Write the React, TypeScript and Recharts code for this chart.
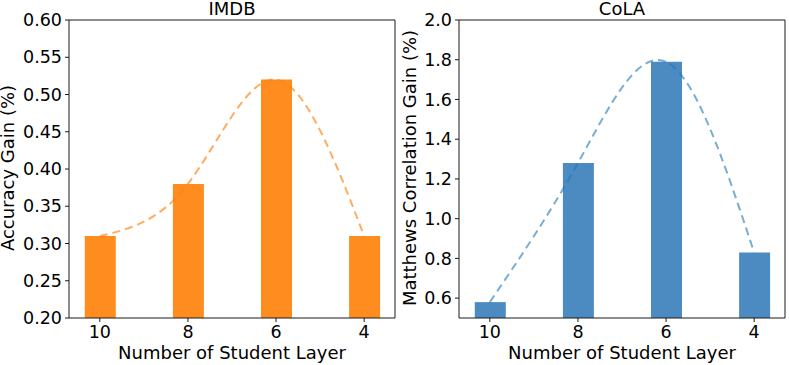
import { ComposedChart, Bar, Line, XAxis, YAxis, ReferenceLine } from 'recharts'

const layers = ['10', '8', '6', '4']
const imdbGain = [0.31, 0.38, 0.52, 0.31]
const colaGain = [0.58, 1.28, 1.79, 0.83]
const imdbTicks = [0.2, 0.25, 0.3, 0.35, 0.4, 0.45, 0.5, 0.55, 0.6]
const colaTicks = [0.6, 0.8, 1.0, 1.2, 1.4, 1.6, 1.8, 2.0]

const FONT = '"DejaVu Sans", sans-serif'
const AXIS = '#1a1a1a'
const ORANGE_BAR = '#ff8c1f'
const ORANGE_LINE = 'rgba(255,127,14,0.65)'
const BLUE_BAR = '#4b8bc2'
const BLUE_LINE = 'rgba(31,119,180,0.6)'

const X_DOMAIN: [number, number] = [-0.35, 3.35]

interface PanelProps {
  values: number[]
  yDomain: [number, number]
  yTicks: number[]
  digits: number
  barColor: string
  lineColor: string
  width: number
}

function Panel({ values, yDomain, yTicks, digits, barColor, lineColor, width }: PanelProps) {
  const data = values.map((v, i) => ({ pos: i, value: v }))
  const tick = { fontSize: 17.5, fill: '#000', fontFamily: FONT }
  return (
    <ComposedChart width={width} height={365} data={data} margin={{ top: 20, right: width - 395, bottom: 0, left: 9 }}>
      <XAxis
        dataKey="pos"
        type="number"
        domain={X_DOMAIN}
        allowDataOverflow
        ticks={[0, 1, 2, 3]}
        tickFormatter={(i: number) => layers[i]}
        height={47}
        tickSize={4}
        tickMargin={3.5}
        tick={tick}
        stroke={AXIS}
        tickLine={{ stroke: AXIS }}
      />
      <YAxis
        type="number"
        domain={yDomain}
        allowDataOverflow
        ticks={yTicks}
        tickFormatter={(v: number) => v.toFixed(digits)}
        width={60}
        tickSize={4}
        tickMargin={3}
        tick={tick}
        stroke={AXIS}
        tickLine={{ stroke: AXIS }}
      />
      <ReferenceLine y={yDomain[1]} stroke={AXIS} strokeWidth={1} />
      <ReferenceLine x={X_DOMAIN[1]} stroke={AXIS} strokeWidth={1} />
      <Bar dataKey="value" fill={barColor} barSize={31} isAnimationActive={false} />
      <Line
        dataKey="value"
        type="natural"
        stroke={lineColor}
        strokeWidth={2}
        strokeDasharray="8 5"
        dot={false}
        activeDot={false}
        isAnimationActive={false}
      />
    </ComposedChart>
  )
}

export default function App() {
  const label = { fontSize: 18, fill: '#000', fontFamily: FONT }
  return (
    <div style={{ position: 'absolute', left: 0, top: 0, width: 789, height: 365, background: '#fff', overflow: 'hidden' }}>
      <div style={{ position: 'absolute', left: 0, top: 0 }}>
        <Panel values={imdbGain} yDomain={[0.2, 0.6]} yTicks={imdbTicks} digits={2}
          barColor={ORANGE_BAR} lineColor={ORANGE_LINE} width={397} />
      </div>
      <div style={{ position: 'absolute', left: 390, top: 0 }}>
        <Panel values={colaGain} yDomain={[0.5, 2.0]} yTicks={colaTicks} digits={1}
          barColor={BLUE_BAR} lineColor={BLUE_LINE} width={399} />
      </div>
      <svg width={789} height={365} style={{ position: 'absolute', left: 0, top: 0, pointerEvents: 'none' }}>
        <text x={232} y={15} textAnchor="middle" {...label}>IMDB</text>
        <text x={622} y={15} textAnchor="middle" {...label}>CoLA</text>
        <text x={232} y={359} textAnchor="middle" {...label}>Number of Student Layer</text>
        <text x={622} y={359} textAnchor="middle" {...label}>Number of Student Layer</text>
        <text transform="translate(14,168) rotate(-90)" textAnchor="middle" {...label}>Accuracy Gain (%)</text>
        <text transform="translate(416,168) rotate(-90)" textAnchor="middle" {...label}>Matthews Correlation Gain (%)</text>
      </svg>
    </div>
  )
}
